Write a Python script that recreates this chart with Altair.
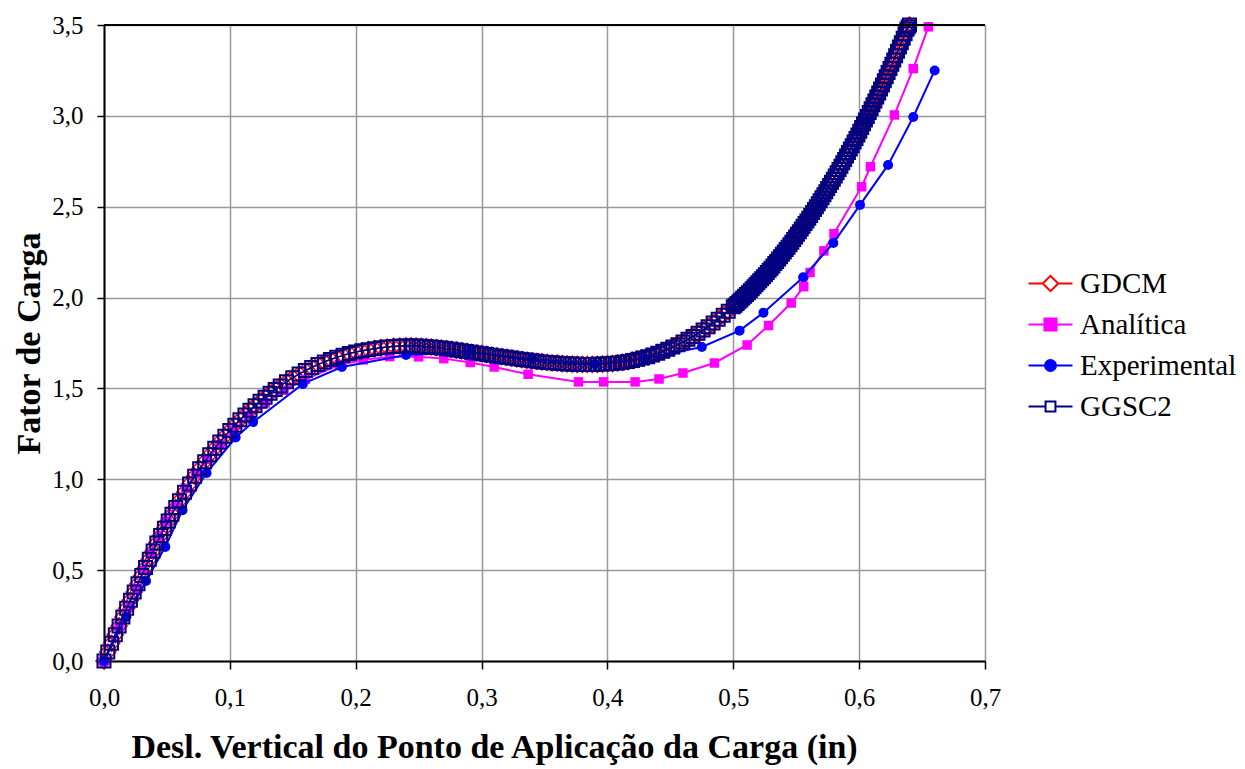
import altair as alt
import pandas as pd

# ---------------- data ----------------
gdcm_x = [0.000, 0.003, 0.006, 0.009, 0.012, 0.015, 0.018, 0.021, 0.024, 0.027, 0.030, 0.033,
          0.036, 0.039, 0.042, 0.045, 0.048, 0.051, 0.054, 0.057, 0.060,
          0.064, 0.068, 0.072, 0.076, 0.080, 0.084, 0.088, 0.092, 0.096, 0.100, 0.104, 0.108,
          0.112, 0.116, 0.120, 0.124, 0.128, 0.132, 0.136, 0.140,
          0.145, 0.150, 0.155, 0.160, 0.165, 0.170, 0.175, 0.180, 0.185, 0.190, 0.195, 0.200,
          0.205, 0.210, 0.215, 0.220, 0.225, 0.230, 0.235, 0.240,
          0.244, 0.248, 0.252, 0.256, 0.260, 0.264, 0.268, 0.272, 0.276, 0.280, 0.284, 0.288,
          0.292, 0.296, 0.300, 0.304, 0.308, 0.312, 0.316, 0.320, 0.324, 0.328, 0.332, 0.336,
          0.340, 0.344, 0.348, 0.352, 0.356, 0.360, 0.364, 0.368, 0.372, 0.376, 0.380, 0.384,
          0.388, 0.392, 0.396, 0.400,
          0.404, 0.408, 0.412, 0.416, 0.420, 0.424, 0.428, 0.432, 0.436, 0.440, 0.444, 0.448,
          0.452, 0.456, 0.460, 0.464, 0.468, 0.472, 0.476, 0.480, 0.484, 0.488, 0.492, 0.496,
          0.500, 0.5015, 0.503, 0.5045, 0.506, 0.5075, 0.509, 0.5105, 0.512, 0.5135, 0.515, 0.5165,
          0.518, 0.5195, 0.521, 0.5225, 0.524, 0.5255, 0.527, 0.5285, 0.530, 0.5315, 0.533, 0.5345,
          0.536, 0.5375, 0.539, 0.5405, 0.542, 0.5435, 0.545, 0.5465, 0.548, 0.5495, 0.551, 0.5525,
          0.554, 0.5555, 0.557, 0.5585, 0.560, 0.5615, 0.563, 0.5645, 0.566, 0.5675, 0.569, 0.5705,
          0.572, 0.5735, 0.575, 0.5765, 0.578, 0.5795, 0.581, 0.5825, 0.584, 0.5855, 0.587, 0.5885,
          0.590, 0.5915, 0.593, 0.5945, 0.596, 0.5975, 0.599, 0.6005, 0.602, 0.6035, 0.605, 0.6065,
          0.608, 0.6095, 0.611, 0.6125, 0.614, 0.6155, 0.617, 0.6185, 0.620, 0.6215, 0.623, 0.6245,
          0.626, 0.6275, 0.629, 0.6305, 0.632, 0.6335, 0.635, 0.6365, 0.638, 0.639, 0.640]
gdcm_y = [0.000, 0.049, 0.097, 0.145, 0.193, 0.242, 0.290, 0.335, 0.380, 0.425, 0.470, 0.515,
          0.560, 0.605, 0.650, 0.691, 0.731, 0.770, 0.808, 0.845, 0.882,
          0.929, 0.974, 1.017, 1.058, 1.097, 1.135, 1.171, 1.205, 1.237, 1.268, 1.298, 1.327,
          1.354, 1.380, 1.405, 1.429, 1.452, 1.474, 1.494, 1.514,
          1.537, 1.559, 1.579, 1.598, 1.615, 1.631, 1.646, 1.659, 1.671, 1.682, 1.692, 1.700,
          1.707, 1.713, 1.719, 1.724, 1.728, 1.731, 1.733, 1.734,
          1.734, 1.733, 1.732, 1.730, 1.728, 1.725, 1.722, 1.719, 1.715, 1.711, 1.707, 1.703,
          1.699, 1.695, 1.691, 1.687, 1.683, 1.679, 1.675, 1.671, 1.667, 1.663, 1.659, 1.656,
          1.652, 1.649, 1.646, 1.643, 1.641, 1.639, 1.637, 1.635, 1.634, 1.633, 1.632, 1.632,
          1.632, 1.633, 1.634, 1.636,
          1.637, 1.640, 1.644, 1.648, 1.654, 1.660, 1.667, 1.675, 1.684, 1.693, 1.704, 1.715,
          1.728, 1.741, 1.755, 1.770, 1.786, 1.803, 1.821, 1.840, 1.860, 1.881, 1.903, 1.925,
          1.949, 1.958, 1.968, 1.977, 1.987, 1.997, 2.007, 2.017, 2.027, 2.037, 2.048, 2.059,
          2.070, 2.081, 2.092, 2.103, 2.115, 2.126, 2.138, 2.150, 2.162, 2.174, 2.187, 2.199,
          2.212, 2.225, 2.238, 2.251, 2.264, 2.277, 2.291, 2.305, 2.319, 2.333, 2.348, 2.362,
          2.377, 2.392, 2.407, 2.422, 2.437, 2.452, 2.468, 2.484, 2.500, 2.516, 2.533, 2.549,
          2.566, 2.583, 2.600, 2.617, 2.634, 2.651, 2.669, 2.687, 2.705, 2.723, 2.742, 2.760,
          2.779, 2.798, 2.817, 2.836, 2.856, 2.875, 2.895, 2.915, 2.936, 2.956, 2.977, 2.997,
          3.018, 3.039, 3.061, 3.082, 3.104, 3.126, 3.148, 3.170, 3.193, 3.215, 3.238, 3.261,
          3.284, 3.307, 3.331, 3.355, 3.379, 3.403, 3.427, 3.452, 3.477, 3.489, 3.500]
assert len(gdcm_x) == len(gdcm_y), (len(gdcm_x), len(gdcm_y))

# GGSC2 lies on top of GDCM in the picture (same readings)
ggsc2_x = list(gdcm_x)
ggsc2_y = list(gdcm_y)

analitica_x = [0.000, 0.012, 0.019, 0.026, 0.031, 0.037, 0.043, 0.050, 0.057, 0.065, 0.073,
               0.082, 0.092, 0.103, 0.115, 0.128, 0.143, 0.160, 0.187, 0.206, 0.227, 0.250,
               0.270, 0.291, 0.310, 0.337, 0.377, 0.397, 0.422, 0.441, 0.460, 0.485, 0.511,
               0.528, 0.546, 0.556, 0.561, 0.572, 0.580, 0.602, 0.609, 0.628, 0.643, 0.655]
analitica_y = [0.000, 0.190, 0.300, 0.400, 0.500, 0.590, 0.680, 0.770, 0.860, 0.950, 1.030,
               1.110, 1.190, 1.270, 1.350, 1.420, 1.490, 1.550, 1.630, 1.657, 1.675, 1.674,
               1.664, 1.643, 1.618, 1.578, 1.536, 1.536, 1.536, 1.552, 1.585, 1.640, 1.739,
               1.846, 1.970, 2.060, 2.138, 2.257, 2.352, 2.610, 2.720, 3.005, 3.260, 3.490]

experimental_x = [0.000, 0.0175, 0.0334, 0.0487, 0.0624, 0.0815, 0.1046, 0.1185, 0.158, 0.189,
                  0.240, 0.290, 0.340, 0.390, 0.430, 0.475, 0.505, 0.524, 0.5555, 0.5795,
                  0.6007, 0.623, 0.643, 0.660]
experimental_y = [0.000, 0.242, 0.440, 0.628, 0.830, 1.035, 1.230, 1.315, 1.525, 1.618,
                  1.684, 1.700, 1.660, 1.635, 1.665, 1.728, 1.818, 1.917, 2.112, 2.300,
                  2.510, 2.730, 2.994, 3.250]

series_names = ["GDCM", "Analítica", "Experimental", "GGSC2"]
series_colors = ["#FF0000", "#FF00FF", "#0000FF", "#000080"]
series_fills = ["#FFFFFF", "#FF00FF", "#0000FF", "#FFFFFF"]
x_ticks = [0.0, 0.1, 0.2, 0.3, 0.4, 0.5, 0.6, 0.7]
y_ticks = [0.0, 0.5, 1.0, 1.5, 2.0, 2.5, 3.0, 3.5]

# legend glyphs: short line with the series marker in the middle
legend_paths = [
    "M-4,0H-1.4M1.4,0H4M-1.4,0L0,-1.4L1.4,0L0,1.4Z",
    "M-4,0H4M-1.1,-1.1H1.1V1.1H-1.1Z",
    "M-4,0H4M1,0A1,1,0,1,1,-1,0A1,1,0,1,1,1,0Z",
    "M-4,0H-0.9M0.9,0H4M-0.9,-0.9H0.9V0.9H-0.9Z",
]

# ---------------- table ----------------
rows = []
for name, xs, ys in [("GDCM", gdcm_x, gdcm_y), ("Analítica", analitica_x, analitica_y),
                     ("Experimental", experimental_x, experimental_y), ("GGSC2", ggsc2_x, ggsc2_y)]:
    for i, (a, b) in enumerate(zip(xs, ys)):
        rows.append({"series": name, "x": a, "y": b, "i": i})
df = pd.DataFrame(rows)

FONT = "Liberation Serif"
W, H = 881, 636

label_expr = "replace(format(datum.value, '.1f'), '.', ',')"

x_enc = alt.X("x:Q", scale=alt.Scale(domain=[0, 0.7], nice=False, zero=False),
              axis=alt.Axis(values=x_ticks, labelExpr=label_expr, labelFlush=False,
                            title="Desl. Vertical do Ponto de Aplicação da Carga (in)",
                            titleFont=FONT, titleFontSize=34, titleFontWeight="bold",
                            titleColor="black", titlePadding=20, titleX=390,
                            labelFont=FONT, labelFontSize=25, labelColor="black", labelPadding=16,
                            grid=True, gridColor="#999999", gridWidth=1.5,
                            domainColor="black", domainWidth=2,
                            tickColor="black", tickSize=8, tickWidth=1.5))
y_enc = alt.Y("y:Q", scale=alt.Scale(domain=[0, 3.5], nice=False, zero=False),
              axis=alt.Axis(values=y_ticks, labelExpr=label_expr, labelFlush=False,
                            title="Fator de Carga",
                            titleFont=FONT, titleFontSize=34, titleFontWeight="bold",
                            titleColor="black", titlePadding=5,
                            labelFont=FONT, labelFontSize=25, labelColor="black", labelPadding=14,
                            grid=True, gridColor="#999999", gridWidth=1.5,
                            domainColor="black", domainWidth=2,
                            tickColor="black", tickSize=7, tickWidth=1.5))

legend = alt.Legend(title=None, orient="none", legendX=932, legendY=244,
                    symbolSize=121, labelFont=FONT, labelFontSize=29, labelColor="black",
                    labelOffset=15, rowPadding=11, padding=0, symbolStrokeWidth=2,
                    symbolOpacity=1)

base = alt.Chart(df)

point_styles = {
    "GDCM": dict(shape="diamond", filled=False, size=260, strokeWidth=1.5),
    "Analítica": dict(shape="square", filled=True, size=90, strokeWidth=0),
    "Experimental": dict(shape="circle", filled=True, size=100, strokeWidth=0),
    "GGSC2": dict(shape="square", filled=False, size=169, strokeWidth=2),
}
line_widths = {"GDCM": 1.5, "Analítica": 2, "Experimental": 2, "GGSC2": 1.5}

layers = []
for name, col in zip(series_names, series_colors):
    sub = base.transform_filter(alt.datum.series == name)
    layers.append(sub.mark_line(strokeWidth=line_widths[name], color=col).encode(
        x=x_enc, y=y_enc, order="i:Q"))
    layers.append(sub.mark_point(color=col, opacity=1, **point_styles[name]).encode(
        x=x_enc, y=y_enc))

# legend-only layer (no rows drawn)
legend_layer = base.transform_filter("false").mark_point(
    filled=False, opacity=1, size=121, strokeWidth=2).encode(
    x=x_enc, y=y_enc,
    shape=alt.Shape("series:N", scale=alt.Scale(domain=series_names, range=legend_paths), legend=legend),
    color=alt.Color("series:N", scale=alt.Scale(domain=series_names, range=series_colors), legend=legend),
    fill=alt.Fill("series:N", scale=alt.Scale(domain=series_names, range=series_fills), legend=legend),
)
layers.append(legend_layer)

top_rule = alt.Chart(df).mark_rule(color="black", strokeWidth=2).encode(
    x=alt.value(0), x2=alt.value(W), y=alt.value(0))
layers.append(top_rule)

chart = alt.layer(*layers).properties(
    width=W, height=H,
    padding={"left": 96, "top": 17, "right": 252, "bottom": 108},
    autosize=alt.AutoSizeParams(type="none"),
).configure_view(stroke=None).configure(background="white")

chart.save("out.html", embed_options={"renderer": "svg", "actions": False})
